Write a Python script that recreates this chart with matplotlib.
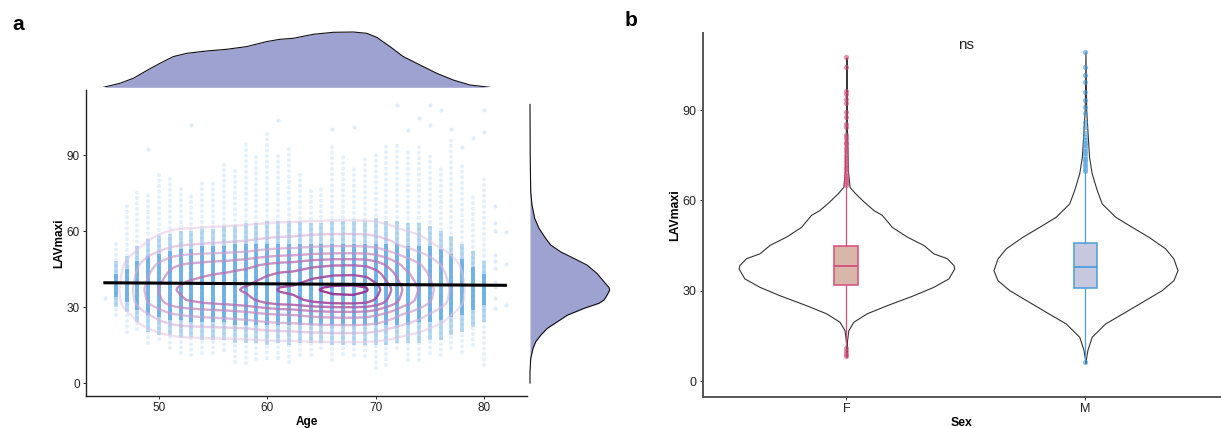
import numpy as np
import matplotlib
matplotlib.use('Agg')
import matplotlib.pyplot as plt
from matplotlib.colors import LinearSegmentedColormap

plt.rcParams['font.family'] = ['Liberation Sans', 'DejaVu Sans']

# ---- panel a : Age vs LAVmaxi ----
# scatter columns (one column of points per integer age)
col_age = list(range(46, 81))
col_min = [27, 20, 21.5, 16, 17.5, 14, 12, 11, 12, 12, 13, 8.5, 8, 9.5, 10, 10, 8.5, 11, 11, 13.7,
           9, 11.5, 11, 10.5, 5.8, 7, 13.7, 9, 9, 11.7, 11, 13.7, 12.4, 15, 7]
col_max = [57, 70, 77, 76, 84, 81, 78, 75.5, 79.5, 80, 87, 84, 96, 90.7, 98.6, 90, 93, 84, 76, 78,
           95, 90.7, 85, 89.4, 90, 94.6, 95, 92.6, 95, 90, 86, 96.6, 86, 74, 82]
core_lo = [30, 28, 24, 20, 19, 19, 18, 18, 17, 17, 17, 16, 16, 16, 15, 16, 15, 16, 16, 16,
           15, 15, 15, 15, 15, 15, 16, 16, 16, 17, 17, 19, 20, 22, 24]
core_hi = [48, 50, 54, 57, 58, 59, 60, 60, 61, 61, 62, 62, 63, 63, 64, 64, 64, 64, 63, 63,
           64, 64, 64, 64, 65, 64, 64, 63, 63, 62, 60, 58, 55, 52, 48]
dense_lo = [34, 32, 29, 27, 26, 25, 25, 24, 24, 24, 24, 23, 23, 23, 23, 23, 23, 23, 23, 23,
            23, 23, 23, 23, 23, 23, 23, 23, 24, 24, 25, 26, 27, 29, 31]
dense_hi = [43, 45, 48, 50, 51, 52, 53, 53, 54, 54, 54, 55, 55, 55, 55, 55, 55, 55, 55, 55,
            55, 55, 55, 55, 55, 55, 55, 54, 54, 54, 53, 51, 49, 46, 43]
# isolated points
pt_age = [45, 49, 53, 61, 66, 68, 72, 73, 74, 75, 75, 76, 77, 78, 79, 80, 80,
          81, 81, 81, 81, 81, 81, 81, 81, 81, 81, 82, 82, 82]
pt_lav = [33.5, 92.6, 101.9, 104.0, 100.5, 101.2, 109.8, 99.9, 104.5, 109.8, 101.9, 107.8, 100.5,
          93.3, 96.6, 107.8, 99.2, 70, 63, 60, 50.5, 48, 45.3, 40, 38, 33.4, 29.5, 59.7, 47.2, 30.8]

# linear fit
fit_age = [45, 82]
fit_lav = [39.6, 38.6]

# marginal densities (relative units)
age_d_x = [44.86, 46.40, 47.63, 48.86, 50.09, 51.32, 52.56, 54.40, 56.25, 58.10, 59.94, 61.17, 62.40,
           64.25, 66.09, 67.94, 69.18, 70.10, 71.33, 72.56, 74.10, 75.64, 77.17, 78.71, 80.56]
age_d_y = [0, 4, 9, 16.7, 24, 30.7, 34, 36.3, 38, 40.7, 45.7, 48, 49, 53, 55, 55.3, 54, 50, 40.7,
           30.7, 22.3, 14, 7.3, 2.3, 0]
lav_d_x = [0, 4.5, 9.7, 13.7, 16.3, 18.9, 21.6, 24.2, 26.8, 29.5, 31.5, 32.8, 34.7, 36.7, 37.7,
           40.0, 43.3, 46.6, 49.2, 51.8, 54.5, 57.1, 61.1, 65.0, 70.3, 75.5, 90, 110]
lav_d_y = [0, 0, 0.7, 3, 5.7, 10.7, 17.3, 27.3, 37.3, 54, 69, 74, 77, 79.7, 79, 74, 67, 57, 44,
           30.7, 20.7, 15.7, 9, 4.7, 2, 0.7, 0.2, 0]
contour_frac = [0.07, 0.16, 0.28, 0.42, 0.57, 0.72, 0.86, 0.97]

# ---- panel b : violins by sex ----
sex = ['F', 'M']
f_lav = [8, 12.5, 16.9, 19.7, 22.5, 25.2, 28.5, 31.3, 34.1, 37.4, 38.5, 40.8, 42.4, 45.2, 48.0,
         51.2, 55.2, 56.8, 59.7, 62.4, 64.5, 70, 85, 107.5]
f_hw = [0, 0.001, 0.008, 0.029, 0.085, 0.169, 0.280, 0.364, 0.427, 0.451, 0.448, 0.420, 0.364,
        0.322, 0.252, 0.190, 0.148, 0.113, 0.071, 0.036, 0.013, 0.006, 0.002, 0]
m_lav = [6, 6.9, 10.3, 14.7, 19.1, 23.0, 26.9, 30.2, 33.5, 36.8, 40.7, 44.1, 47.9, 51.2, 54.6,
         59.0, 63.5, 69.0, 74.5, 90, 109.4]
m_hw = [0, 0.001, 0.008, 0.026, 0.082, 0.166, 0.249, 0.319, 0.368, 0.385, 0.368, 0.333, 0.264,
        0.194, 0.124, 0.068, 0.047, 0.026, 0.015, 0.003, 0]
box_q1 = [31.8, 30.9]
box_med = [38.1, 37.9]
box_q3 = [44.9, 46.0]
box_lo = [12.0, 7.0]
box_hi = [64.9, 69.4]
f_out = [8.2, 9.0, 10.0, 11.0, 65.2, 65.8, 66.5, 67.1, 67.9, 68.6, 69.4, 70.3, 71.2, 72.0, 73.1,
         74.2, 75.0, 76.3, 77.4, 78.6, 79.5, 80.7, 81.6, 84.5, 85.4, 87.8, 89.3, 92.2, 93.6,
         95.5, 96.2, 104.4, 107.7]
m_out = [6.4, 69.8, 70.5, 71.3, 72.1, 73.0, 73.8, 74.7, 75.6, 76.4, 77.5, 78.3, 79.2, 80.0,
         81.2, 82.5, 84.5, 86.0, 88.9, 91.0, 93.3, 96.1, 99.4, 101.6, 104.4, 109.4]

W, H = 1221, 428
fig = plt.figure(figsize=(W / 100, H / 100), dpi=100)


def px_axes(left, top, right, bottom):
    return fig.add_axes([left / W, 1 - bottom / H, (right - left) / W, (bottom - top) / H])


dot_col = '#5ba6e2'
ylim_a = (-5.1, 115.7)
xlim_a = (43.26, 83.98)

ax = px_axes(86, 90, 527, 396)
ax.vlines(col_age, col_min, col_max, color=dot_col, alpha=0.16, lw=3.0,
          linestyles=(0, (0.01, 1.3)), capstyle='round', zorder=1)
ax.vlines(col_age, core_lo, core_hi, color=dot_col, alpha=0.4, lw=2.8, zorder=2)
ax.vlines(col_age, dense_lo, dense_hi, color=dot_col, alpha=0.75, lw=2.8, zorder=2)
ax.scatter(pt_age, pt_lav, s=9, color=dot_col, alpha=0.2, lw=0, zorder=2)

ag = np.linspace(xlim_a[0], xlim_a[1], 300)
lg = np.linspace(ylim_a[0], ylim_a[1], 300)
za = np.interp(ag, age_d_x, age_d_y)
zl = np.interp(lg, lav_d_x, lav_d_y)
Z = np.outer(zl, za)
levels = [f * Z.max() for f in contour_frac]
cmap = LinearSegmentedColormap.from_list('pk', ['#e2c6e2', '#983494'])
n = len(levels) - 1
cols = [(*cmap(i / n)[:3], 0.55 + 0.4 * i / n) for i in range(len(levels))]
ax.contour(ag, lg, Z, levels=levels, colors=cols, linewidths=1.7, zorder=3)
ax.plot(fit_age, fit_lav, color='black', lw=2.2, zorder=4)

ax.set_xlim(*xlim_a)
ax.set_ylim(*ylim_a)
ax.set_xticks([50, 60, 70, 80])
ax.set_yticks([0, 30, 60, 90])
for s in ['top', 'right']:
    ax.spines[s].set_visible(False)
for s in ['left', 'bottom']:
    ax.spines[s].set_color('#222')
    ax.spines[s].set_linewidth(1.0)
ax.tick_params(length=2.5, width=0.7, color='#333', labelsize=8.5, labelcolor='#222', pad=2)
ax.set_xlabel('Age', fontsize=8.5, fontweight='bold', labelpad=1)
ax.set_ylabel('LAVmaxi', fontsize=8.5, fontweight='bold', labelpad=1)

# top marginal
axt = px_axes(86, 20, 527, 87.3)
axt.fill_between(age_d_x, 0, age_d_y, color='#9ea2d0', lw=0)
axt.plot(age_d_x, age_d_y, color='#111', lw=0.8)
axt.set_xlim(*xlim_a)
axt.set_ylim(0, 67.3)
axt.axis('off')

# right marginal
axr = px_axes(530, 90, 625, 396)
axr.fill_betweenx(lav_d_x, 0, lav_d_y, color='#9ea2d0', lw=0)
axr.plot(lav_d_y, lav_d_x, color='#111', lw=0.8, clip_on=False)
axr.set_ylim(*ylim_a)
axr.set_xlim(0, 95)
axr.axis('off')

# ---- panel b ----
axb = px_axes(703, 33, 1221, 397)
pos = [1, 2]
edge_cols = ['#d64d7a', '#4a9edb']
fill_cols = ['#d9b6aa', '#c7c7de']
for p, lv, hw in zip(pos, [f_lav, m_lav], [f_hw, m_hw]):
    lv = np.array(lv)
    hw = np.array(hw)
    axb.fill_betweenx(lv, p - hw, p + hw, facecolor='white', edgecolor='#333', lw=0.8, zorder=1)

for i in range(2):
    st = dict(med=box_med[i], q1=box_q1[i], q3=box_q3[i], whislo=box_lo[i],
              whishi=box_hi[i], fliers=[f_out, m_out][i])
    axb.bxp([st], positions=[pos[i]], widths=0.1, patch_artist=True,
            showcaps=False, manage_ticks=False, zorder=2,
            boxprops=dict(facecolor=fill_cols[i], edgecolor=edge_cols[i], lw=1.1),
            medianprops=dict(color=edge_cols[i], lw=1.3),
            whiskerprops=dict(color=edge_cols[i], lw=0.9),
            flierprops=dict(marker='o', markersize=3.8, markerfacecolor=edge_cols[i],
                            markeredgecolor='none', alpha=0.6))

axb.text(1.5, 111.5, 'ns', ha='center', va='center', fontsize=11, color='#222')
axb.set_xlim(0.4, 2.567)
axb.set_ylim(-5.3, 115.6)
axb.set_xticks(pos)
axb.set_xticklabels(sex)
axb.set_yticks([0, 30, 60, 90])
for s in ['top', 'right']:
    axb.spines[s].set_visible(False)
for s in ['left', 'bottom']:
    axb.spines[s].set_color('#555')
    axb.spines[s].set_linewidth(1.4)
axb.tick_params(length=2.5, width=0.7, color='#333', labelsize=9, labelcolor='#222', pad=2)
axb.set_xlabel('Sex', fontsize=8.8, fontweight='bold', labelpad=1)
axb.set_ylabel('LAVmaxi', fontsize=8.8, fontweight='bold', labelpad=1)

fig.text(12 / W, 1 - 25 / H, 'a', fontsize=15, fontweight='bold', va='center')
fig.text(625 / W, 1 - 20 / H, 'b', fontsize=15, fontweight='bold', va='center')

fig.savefig('out.png', dpi=100)
